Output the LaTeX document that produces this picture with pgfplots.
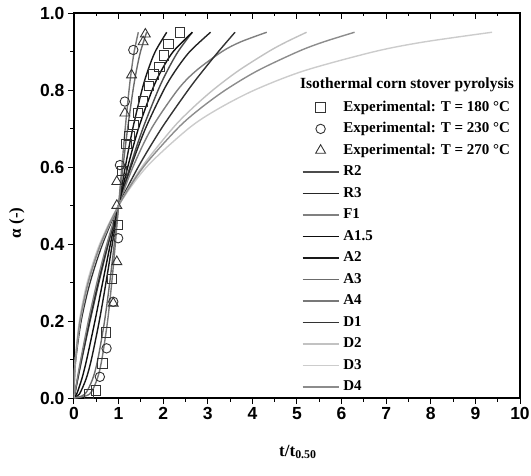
\documentclass[border=0pt]{standalone}
\usepackage{fontspec}
\setmainfont{Liberation Serif}
\newfontfamily\tickfont{Liberation Sans}
\usepackage{pgfplots}
\pgfplotsset{compat=1.18}
\definecolor{cR2}{gray}{0.30}
\definecolor{cR3}{gray}{0.15}
\definecolor{cF1}{gray}{0.50}
\definecolor{cA15}{gray}{0.05}
\definecolor{cA2}{gray}{0.10}
\definecolor{cA3}{gray}{0.42}
\definecolor{cA4}{gray}{0.47}
\definecolor{cD1}{gray}{0.20}
\definecolor{cD2}{gray}{0.76}
\definecolor{cD3}{gray}{0.80}
\definecolor{cD4}{gray}{0.55}
\begin{document}
\begin{tikzpicture}
\path[use as bounding box] (-74pt,-77pt) rectangle (457pt,398pt);
\begin{axis}[
  at={(0pt,0pt)}, anchor=south west, scale only axis,
  width=446pt, height=385pt,
  xmin=0, xmax=10, ymin=0, ymax=1,
  xtick={0,1,...,10}, ytick={0,0.2,0.4,0.6,0.8,1.0},
  minor x tick num=1, minor y tick num=1,
  xtick pos=bottom, ytick pos=left,
  tick align=outside,
  major tick length=6pt, minor tick length=3.5pt,
  every tick/.style={black, line width=1pt},
  axis line style={black, line width=1.2pt},
  /pgf/number format/assume math mode=true,
  ticklabel style={font=\tickfont\bfseries\fontsize{17.5}{17.5}\selectfont},
  yticklabel style={/pgf/number format/.cd, fixed, fixed zerofill, precision=1},
  xlabel={t/t\textsubscript{0.50}},
  ylabel={α (-)},
  every axis x label/.style={at={(rel axis cs:0.502,-0.14)}, anchor=center, font=\bfseries\fontsize{17}{17}\selectfont},
  every axis y label/.style={at={(rel axis cs:-0.128,0.455)}, anchor=center, rotate=90, font=\bfseries\fontsize{17}{17}\selectfont},
  legend image code/.code={\draw[mark repeat=2,mark phase=2,#1] plot coordinates {(0pt,0pt) (18pt,0pt) (36pt,0pt)};},
  legend style={at={(rel axis cs:0.511,0.773)}, anchor=north west, draw=none, fill=none,
    inner sep=0pt, outer sep=0pt, row sep=7.5pt,
    font=\bfseries\fontsize{15}{15}\selectfont,
    nodes={inner sep=0pt, text height=11pt, text depth=3pt},
    /tikz/every odd column/.append style={column sep=4pt}},
  legend cell align=left,
  every axis plot/.append style={line width=1.4pt},
]
% experimental data
\addplot[only marks, mark=square, mark size=4.7pt, mark options={draw=black!80, line width=0.9pt, fill=none}] coordinates {
(0.34,0.01) (0.49,0.02) (0.64,0.09) (0.72,0.17) (0.85,0.31) (0.99,0.45) (1.08,0.59) (1.18,0.66) (1.24,0.68) (1.33,0.71) (1.44,0.74) (1.54,0.77) (1.68,0.81) (1.78,0.84) (1.92,0.86) (2.02,0.89) (2.12,0.92) (2.38,0.95)};
\addlegendentry{Experimental: T = 180 °C}
\addplot[only marks, mark=o, mark size=4.7pt, mark options={draw=black!80, line width=0.9pt, fill=none}] coordinates {
(0.58,0.055) (0.73,0.129) (0.88,0.25) (0.99,0.415) (1.03,0.605) (1.14,0.77) (1.33,0.904)};
\addlegendentry{Experimental: T = 230 °C}
\addplot[only marks, mark=triangle, mark size=5.7pt, mark options={draw=black!80, line width=0.9pt, fill=none}] coordinates {
(0.88,0.246) (0.96,0.354) (0.96,0.50) (0.96,0.562) (1.14,0.74) (1.29,0.839) (1.55,0.925) (1.60,0.945)};
\addlegendentry{Experimental: T = 270 °C}
% models
\addplot[cR2, smooth] coordinates {(0,0) (0.0865,0.05) (0.1752,0.1) (0.3605,0.2) (0.5577,0.3) (0.7696,0.4) (1,0.5) (1.2549,0.6) (1.5442,0.7) (1.8874,0.8) (2.0919,0.85) (2.3346,0.9) (2.6508,0.95)};
\addlegendentry{R2}
\addplot[cR3, smooth] coordinates {(0,0) (0.0822,0.05) (0.1673,0.1) (0.3475,0.2) (0.5434,0.3) (0.7589,0.4) (1,0.5) (1.2758,0.6) (1.6024,0.7) (2.0126,0.8) (2.2718,0.85) (2.5974,0.9) (3.0616,0.95)};
\addlegendentry{R3}
\addplot[cF1, smooth] coordinates {(0,0) (0.0740,0.05) (0.1520,0.1) (0.3219,0.2) (0.5146,0.3) (0.7370,0.4) (1,0.5) (1.3219,0.6) (1.7370,0.7) (2.3219,0.8) (2.737,0.85) (3.3219,0.9) (3.7370,0.925) (4.3219,0.95)};
\addlegendentry{F1}
\addplot[cA15, smooth] coordinates {(0,0) (0.0595,0.01) (0.1763,0.05) (0.2848,0.1) (0.4697,0.2) (0.6422,0.3) (0.8159,0.4) (1,0.5) (1.2045,0.6) (1.4450,0.7) (1.7535,0.8) (1.9568,0.85) (2.2264,0.9) (2.6535,0.95)};
\addlegendentry{A1.5}
\addplot[cA2, smooth] coordinates {(0,0) (0.1204,0.01) (0.2720,0.05) (0.3899,0.1) (0.5673,0.2) (0.7173,0.3) (0.8585,0.4) (1,0.5) (1.1498,0.6) (1.3180,0.7) (1.5238,0.8) (1.6544,0.85) (1.8226,0.9) (2.0789,0.95)};
\addlegendentry{A2}
\addplot[cA3, smooth] coordinates {(0,0) (0.2439,0.01) (0.4198,0.05) (0.5337,0.1) (0.6854,0.2) (0.8013,0.3) (0.9033,0.4) (1,0.5) (1.0975,0.6) (1.2021,0.7) (1.3242,0.8) (1.3988,0.85) (1.4921,0.9) (1.6289,0.95)};
\addlegendentry{A3}
\addplot[cA4, smooth] coordinates {(0,0) (0.3470,0.01) (0.5216,0.05) (0.6244,0.1) (0.7532,0.2) (0.8470,0.3) (0.9265,0.4) (1,0.5) (1.0723,0.6) (1.1481,0.7) (1.2344,0.8) (1.2862,0.85) (1.3501,0.9) (1.4419,0.95)};
\addlegendentry{A4}
\addplot[cD1, smooth] coordinates {(0,0) (0.0025,0.025) (0.01,0.05) (0.04,0.1) (0.16,0.2) (0.36,0.3) (0.64,0.4) (1,0.5) (1.44,0.6) (1.96,0.7) (2.56,0.8) (2.89,0.85) (3.24,0.9) (3.61,0.95)};
\addlegendentry{D1}
\addplot[cD2, smooth] coordinates {(0,0) (0.0083,0.05) (0.0337,0.1) (0.14,0.2) (0.3281,0.3) (0.6094,0.4) (1,0.5) (1.5218,0.6) (2.2083,0.7) (2.6294,0.75) (3.1162,0.8) (3.6853,0.85) (4.3652,0.9) (4.7627,0.925) (5.2155,0.95)};
\addlegendentry{D2}
\addplot[cD3, smooth] coordinates {(0,0) (0.0068,0.05) (0.028,0.1) (0.1207,0.2) (0.2953,0.3) (0.576,0.4) (1,0.5) (1.6276,0.6) (2.5676,0.7) (3.2173,0.75) (4.0506,0.8) (5.161,0.85) (6.7464,0.9) (7.8574,0.925) (9.3731,0.95)};
\addlegendentry{D3}
\addplot[cD4, smooth] coordinates {(0,0) (0.0076,0.05) (0.0316,0.1) (0.1332,0.2) (0.3171,0.3) (0.5979,0.4) (1,0.5) (1.5557,0.6) (2.3206,0.7) (2.8099,0.75) (3.3963,0.8) (4.1139,0.85) (5.0275,0.9) (5.5974,0.925) (6.2912,0.95)};
\addlegendentry{D4}
\node[anchor=west, inner sep=0pt, font=\bfseries\fontsize{15.5}{15.5}\selectfont] at (rel axis cs:0.5067,0.8130) {Isothermal corn stover pyrolysis};
\end{axis}
\begin{axis}[
  at={(0pt,0pt)}, anchor=south west, scale only axis,
  width=446pt, height=385pt,
  xmin=0, xmax=10, ymin=0, ymax=1,
  axis x line*=top, axis y line=none,
  xtick={0,1,...,10}, minor x tick num=1, xticklabels={},
  tick align=inside,
  major tick length=6pt, minor tick length=3.5pt,
  every tick/.style={black, line width=1pt},
  axis line style={black, line width=1.2pt},
]
\end{axis}
\end{tikzpicture}
\end{document}
